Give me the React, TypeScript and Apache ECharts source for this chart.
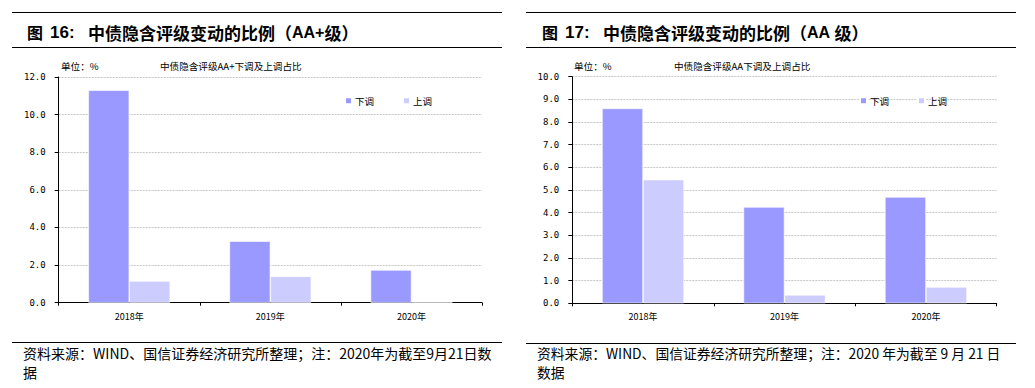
import React, { useEffect, useRef } from "react";
import * as echarts from "echarts";

const categories = ["2018年", "2019年", "2020年"];
const seriesNames = ["下调", "上调"];
const aaPlusDown = [11.3, 3.27, 1.74];
const aaPlusUp = [1.15, 1.4, 0];
const aaDown = [8.6, 4.25, 4.69];
const aaUp = [5.46, 0.37, 0.72];

const leftTitleParts = ["图", "16:", "中债隐含评级变动的比例（", "AA+", "级）"];
const rightTitleParts = ["图", "17:", "中债隐含评级变动的比例（", "AA ", "级）"];
const leftChartTitle = "中债隐含评级AA+下调及上调占比";
const rightChartTitle = "中债隐含评级AA下调及上调占比";
const unitLabel = "单位：%";
const leftSource = ["资料来源：WIND、国信证券经济研究所整理；注：2020年为截至9月21日数", "据"];
const rightSource = ["资料来源：WIND、国信证券经济研究所整理；注：2020 年为截至 9 月 21 日", "数据"];

const DOWN = "#9999FF";
const UP = "#CCCCFF";
const CJK = "'Noto Sans CJK SC', sans-serif";
const LAT = "'Liberation Sans', Arial, sans-serif";

export default function App() {
  const ref = useRef<HTMLDivElement>(null);
  useEffect(() => {
    document.body.style.margin = "0";
    const chart = echarts.init(ref.current!, null, { renderer: "svg" });
    const axisLabel = { fontFamily: "'DejaVu Sans Mono', monospace", fontSize: 9, color: "#000" };
    const yAxisBase = (max: number, interval: number) => ({
      type: "value",
      min: 0,
      max,
      interval,
      axisLine: { show: true, lineStyle: { color: "#000", width: 1 } },
      axisTick: { show: true, length: 4, lineStyle: { color: "#000" } },
      splitLine: { lineStyle: { color: "#c8c8c8", type: [2, 1], width: 1 } },
      axisLabel: { ...axisLabel, margin: 13, formatter: (v: number) => v.toFixed(1) },
    });
    const xAxisBase = (gridIndex: number) => ({
      type: "category",
      gridIndex,
      data: categories,
      axisLine: { lineStyle: { color: "#000", width: 1 } },
      axisTick: { show: true, length: 3, lineStyle: { color: "#000" } },
      axisLabel: { fontFamily: CJK, fontSize: 9, color: "#000", margin: 9 },
    });
    const bar = (name: string, data: number[], color: string, idx: number) => ({
      type: "bar",
      name,
      data,
      xAxisIndex: idx,
      yAxisIndex: idx,
      barGap: "0%",
      barCategoryGap: "42%",
      itemStyle: { color, borderColor: "#ffffff", borderWidth: 0.6 },
    });
    const header = (x1: number, x2: number, xs: number[], parts: string[]) => [
      { type: "line", shape: { x1, y1: 12.5, x2, y2: 12.5 }, style: { stroke: "#000", lineWidth: 1.2 } },
      { type: "line", shape: { x1, y1: 47.5, x2, y2: 47.5 }, style: { stroke: "#000", lineWidth: 1.2 } },
      {
        type: "text",
        x: xs[0],
        y: 32,
        style: { text: parts[0], font: `bold 16px ${CJK}`, fill: "#000", textVerticalAlign: "middle" },
      },
      {
        type: "text",
        x: xs[1],
        y: 32,
        style: { text: parts[1], font: `bold 17px ${LAT}`, fill: "#000", textVerticalAlign: "middle" },
      },
      {
        type: "text",
        x: xs[2],
        y: 32,
        style: {
          text: `{c|${parts[2]}}{a|${parts[3]}}{c|${parts[4]}}`,
          textVerticalAlign: "middle",
          rich: {
            c: { font: `bold 17px ${CJK}`, fill: "#000", color: "#000" },
            a: { font: `bold 16px ${LAT}`, fill: "#000", color: "#000" },
          },
        },
      },
    ];
    const footer = (x1: number, x2: number, lineY: number, lines: string[], textX: number, size: number) => [
      { type: "line", shape: { x1, y1: lineY, x2, y2: lineY }, style: { stroke: "#000", lineWidth: 1.2 } },
      ...lines.map((t, i) => ({
        type: "text",
        x: textX,
        y: 353 + i * 19,
        style: { text: t, font: `${size}px ${CJK}`, fill: "#000", textVerticalAlign: "middle" },
      })),
    ];
    const small = (x: number, text: string) => ({
      type: "text",
      x,
      y: 66,
      style: { text, font: `9.6px ${CJK}`, fill: "#000", textVerticalAlign: "middle" },
    });
    const legendBase = {
      top: 91,
      itemWidth: 7,
      itemHeight: 7,
      itemGap: 28,
      icon: "rect",
      textStyle: { fontFamily: CJK, fontSize: 9.5, color: "#000", padding: [0, 0, 0, -2] },
      data: seriesNames,
    };
    chart.setOption({
      animation: false,
      grid: [
        { left: 58.7, right: 553, top: 77, bottom: 85.3 },
        { left: 572.3, right: 38.3, top: 76.7, bottom: 84.7 },
      ],
      xAxis: [xAxisBase(0), xAxisBase(1)],
      yAxis: [{ ...yAxisBase(12, 2), gridIndex: 0 }, { ...yAxisBase(10, 1), gridIndex: 1 }],
      legend: [
        { ...legendBase, left: 339 },
        { ...legendBase, left: 854 },
      ],
      series: [
        bar(seriesNames[0], aaPlusDown, DOWN, 0),
        bar(seriesNames[1], aaPlusUp, UP, 0),
        bar(seriesNames[0], aaDown, DOWN, 1),
        bar(seriesNames[1], aaUp, UP, 1),
      ],
      graphic: [
        ...header(12, 502, [27, 50, 88], leftTitleParts),
        ...header(526, 1016, [542, 565, 603], rightTitleParts),
        small(61, unitLabel),
        small(160, leftChartTitle),
        small(574, unitLabel),
        small(674, rightChartTitle),
        ...footer(12, 502, 342.5, leftSource, 23, 14),
        ...footer(526, 1016, 343.5, rightSource, 537, 13.8),
      ],
    });
    return () => chart.dispose();
  }, []);
  return <div ref={ref} style={{ width: 1035, height: 388, position: "absolute", left: 0, top: 0 }} />;
}
